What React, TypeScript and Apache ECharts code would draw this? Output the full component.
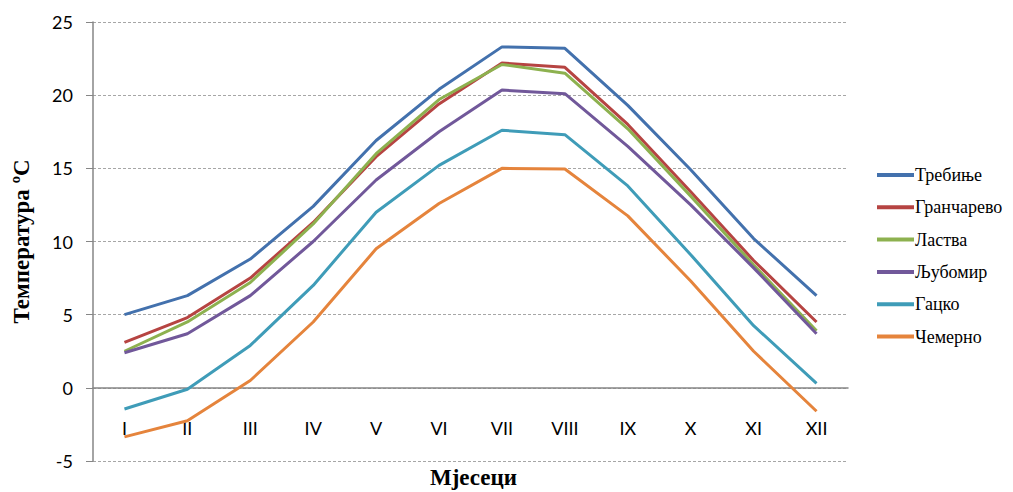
import React, { useEffect, useRef } from "react";
import * as echarts from "echarts";

const months = ["I", "II", "III", "IV", "V", "VI", "VII", "VIII", "IX", "X", "XI", "XII"];
const trebinje = [5.0, 6.3, 8.8, 12.4, 16.9, 20.4, 23.3, 23.2, 19.3, 14.9, 10.2, 6.3];
const grancarevo = [3.1, 4.8, 7.5, 11.3, 15.8, 19.4, 22.2, 21.9, 18.0, 13.4, 8.7, 4.5];
const lastva = [2.5, 4.5, 7.2, 11.2, 16.0, 19.7, 22.1, 21.5, 17.7, 13.1, 8.4, 3.9];
const ljubomir = [2.4, 3.7, 6.3, 10.0, 14.2, 17.5, 20.35, 20.1, 16.5, 12.5, 8.2, 3.7];
const gacko = [-1.45, -0.1, 2.9, 7.0, 12.0, 15.2, 17.6, 17.3, 13.8, 9.1, 4.25, 0.3];
const cemerno = [-3.35, -2.25, 0.5, 4.5, 9.5, 12.6, 15.0, 14.95, 11.75, 7.3, 2.5, -1.6];

const seriesNames = ["Требиње", "Гранчарево", "Ластва", "Љубомир", "Гацко", "Чемерно"];
const seriesData = [trebinje, grancarevo, lastva, ljubomir, gacko, cemerno];
const colors = ["#4371AD", "#B64442", "#8DB14F", "#71589A", "#3F9CB8", "#E5843C"];

export default function App() {
  const ref = useRef<HTMLDivElement>(null);
  useEffect(() => {
    if (!ref.current) return;
    const chart = echarts.init(ref.current, null, { renderer: "svg" });
    chart.setOption({
      animation: false,
      color: colors,
      grid: { left: 93, right: 165, top: 22, bottom: 31, containLabel: false, outerBoundsMode: "none" },
      legend: {
        orient: "vertical",
        left: 872,
        top: 160,
        icon: "rect",
        itemWidth: 37,
        itemHeight: 4,
        itemGap: 12.3,
        data: seriesNames,
        textStyle: {
          fontFamily: "'Liberation Serif', 'Times New Roman', serif",
          fontSize: 18,
          lineHeight: 20,
          color: "#000",
          padding: [0, 0, 0, -4],
        },
      },
      xAxis: {
        type: "category",
        data: months,
        boundaryGap: true,
        axisLine: { onZero: true, lineStyle: { color: "#868686", width: 1.5 } },
        axisTick: { show: false },
        axisLabel: {
          margin: -42,
          fontFamily: "Lato, 'Open Sans', sans-serif",
          fontSize: 18,
          color: "#000",
        },
      },
      yAxis: {
        type: "value",
        min: -5,
        max: 25,
        interval: 5,
        name: "Температура ºC",
        nameLocation: "middle",
        nameGap: 60,
        nameTextStyle: {
          fontFamily: "'Liberation Serif', 'Times New Roman', serif",
          fontSize: 23,
          fontWeight: "bold",
          color: "#000",
        },
        axisLine: { show: true, lineStyle: { color: "#868686", width: 1.5 } },
        axisTick: { show: true, length: 7, lineStyle: { color: "#868686" } },
        axisLabel: {
          margin: 20,
          fontFamily: "Lato, 'Open Sans', sans-serif",
          fontSize: 18,
          color: "#000",
        },
        splitLine: {
          show: true,
          lineStyle: { color: "#A6A6A6", width: 1, type: [3, 2] },
        },
      },
      graphic: [
        {
          type: "text",
          left: 430,
          top: 466,
          style: {
            text: "Мјесеци",
            fontFamily: "'Liberation Serif', 'Times New Roman', serif",
            fontSize: 23,
            fontWeight: "bold",
            fill: "#000",
          },
        },
      ],
      series: seriesNames.map((name, i) => ({
        name,
        type: "line",
        data: seriesData[i],
        symbol: "none",
        lineStyle: { width: 3, color: colors[i] },
        itemStyle: { color: colors[i] },
      })),
    });
    return () => chart.dispose();
  }, []);
  return <div ref={ref} style={{ width: 1013, height: 492, position: "absolute", left: 0, top: 0 }} />;
}
